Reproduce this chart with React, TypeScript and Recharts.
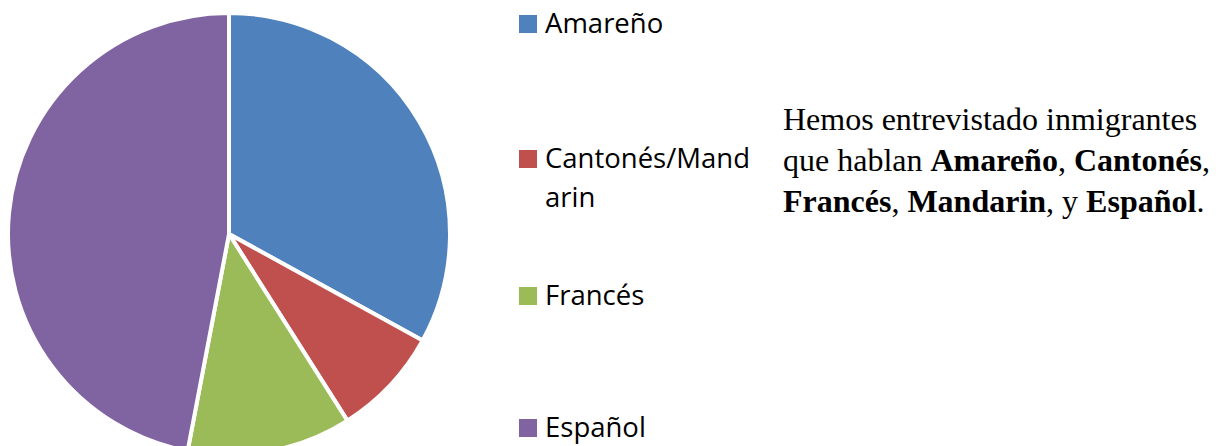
import React from "react";
import { PieChart, Pie, Cell, Legend } from "recharts";

const languages = ["Amareño", "Cantonés/Mandarin", "Francés", "Español"];
const shares = [33, 8, 12, 47];
const colors = ["#4F81BD", "#C0504D", "#9BBB59", "#8064A2"];
// how the legend wraps each label (the second entry breaks mid-word like the original)
const legendLines = [["Amareño"], ["Cantonés/Mand", "arin"], ["Francés"], ["Español"]];

const chartData = languages.map((name, i) => ({ name, value: shares[i] }));

// baseline of the first line of each legend entry
const legendBaselines = [33, 168, 305, 437];

const LegendBox = () => (
  <svg width={260} height={446} style={{ display: "block" }}>
    {legendLines.map((lines, i) => (
      <g key={languages[i]}>
        <rect x={0} y={legendBaselines[i] - 18} width={18} height={18} fill={colors[i]} />
        {lines.map((line, j) => (
          <text
            key={line}
            x={26}
            y={legendBaselines[i] + j * 39}
            fontFamily="'Open Sans', sans-serif"
            fontSize={27.5}
            fill="#000"
          >
            {line}
          </text>
        ))}
      </g>
    ))}
  </svg>
);

export default function App() {
  return (
    <div
      style={{
        position: "absolute",
        left: 0,
        top: 0,
        width: 1216,
        height: 446,
        background: "#fff",
        overflow: "hidden",
      }}
    >
      <PieChart width={1216} height={446} margin={{ top: 0, right: 0, bottom: 0, left: 0 }}>
        <Pie
          data={chartData}
          dataKey="value"
          nameKey="name"
          cx={229}
          cy={234}
          outerRadius={221}
          startAngle={90}
          endAngle={-270}
          stroke="#fff"
          strokeWidth={4}
          isAnimationActive={false}
        >
          {chartData.map((d, i) => (
            <Cell key={d.name} fill={colors[i]} />
          ))}
        </Pie>
        <Legend
          layout="vertical"
          align="right"
          verticalAlign="top"
          content={() => <LegendBox />}
          wrapperStyle={{ left: 519, top: 0, width: 260, height: 446, right: "auto" }}
        />
      </PieChart>
      <div
        style={{
          position: "absolute",
          left: 783,
          top: 99,
          fontFamily: "'Liberation Serif', 'Times New Roman', serif",
          fontSize: 32,
          lineHeight: "41px",
          whiteSpace: "nowrap",
          color: "#000",
        }}
      >
        Hemos entrevistado inmigrantes
        <br />
        que hablan <b>Amareño</b>, <b>Cantonés</b>,
        <br />
        <b>Francés</b>, <b>Mandarin</b>, y <b>Español</b>.
      </div>
    </div>
  );
}
